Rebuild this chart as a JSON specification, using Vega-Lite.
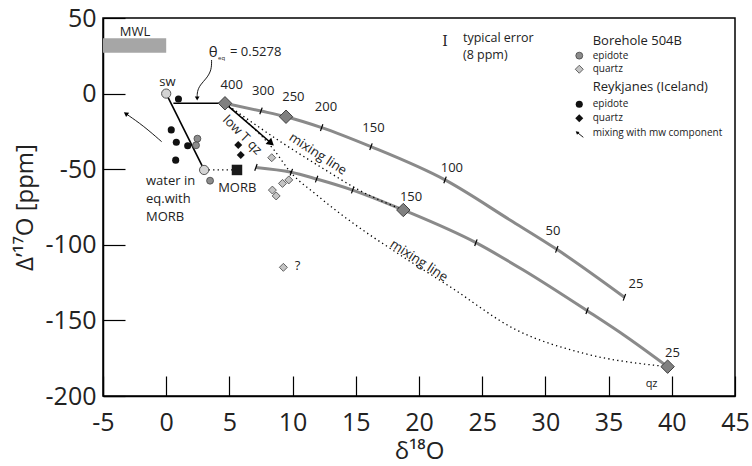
{
  "$schema": "https://vega.github.io/schema/vega-lite/v6.json",
  "width": 632,
  "height": 378,
  "autosize": "none",
  "padding": {"left": 103, "top": 18, "right": 17, "bottom": 70},
  "background": "white",
  "config": {
    "view": {"stroke": "black", "strokeWidth": 1.5},
    "axis": {"domainColor": "black", "domainWidth": 1.5, "tickColor": "black", "tickWidth": 1.2, "grid": false, "labelFont": "Open Sans", "titleFont": "Open Sans", "labelColor": "#222", "titleColor": "#222", "titleFontWeight": "normal"},
    "text": {"font": "Open Sans", "color": "#222"}
  },
  "datasets": {
    "mwl": [{"x": -5, "x2": 0, "y": 36.6, "y2": 27}],
    "lines": [
      {"s": "up", "o": 1, "x": 4.65, "y": -6.4}, {"s": "up", "o": 2, "x": 7.5, "y": -11.5}, {"s": "up", "o": 3, "x": 9.48, "y": -15.3}, {"s": "up", "o": 4, "x": 12.3, "y": -22.5}, {"s": "up", "o": 5, "x": 16.2, "y": -35.1}, {"s": "up", "o": 6, "x": 22.06, "y": -57.1}, {"s": "up", "o": 7, "x": 27.2, "y": -83.6}, {"s": "up", "o": 8, "x": 30.9, "y": -103}, {"s": "up", "o": 9, "x": 36.25, "y": -134.7},
      {"s": "lo", "o": 1, "x": 7.1, "y": -48.8}, {"s": "lo", "o": 2, "x": 9.9, "y": -52}, {"s": "lo", "o": 3, "x": 11.9, "y": -56.5}, {"s": "lo", "o": 4, "x": 14.75, "y": -63.8}, {"s": "lo", "o": 5, "x": 18.76, "y": -77}, {"s": "lo", "o": 6, "x": 24.5, "y": -98.6}, {"s": "lo", "o": 7, "x": 28.25, "y": -116.7}, {"s": "lo", "o": 8, "x": 33.3, "y": -143.6}, {"s": "lo", "o": 9, "x": 36.4, "y": -160.8}, {"s": "lo", "o": 10, "x": 39.67, "y": -180.6},
      {"s": "swline", "o": 1, "x": 0, "y": 0}, {"s": "swline", "o": 2, "x": 3, "y": -50.5},
      {"s": "start", "o": 1, "x": 0.57, "y": -6.4}, {"s": "start", "o": 2, "x": 4.65, "y": -6.4},
      {"s": "lowT", "o": 1, "x": 4.65, "y": -6.4}, {"s": "lowT", "o": 2, "x": 8.2, "y": -32},
      {"s": "mw", "o": 1, "x": -0.36, "y": -31.8}, {"s": "mw", "o": 2, "x": -1.8, "y": -21.3}, {"s": "mw", "o": 3, "x": -3.1, "y": -13.8},
      {"s": "theta", "o": 1, "x": 3.59, "y": 22.2}, {"s": "theta", "o": 2, "x": 3.59, "y": 15.6}, {"s": "theta", "o": 3, "x": 3.2, "y": 10.1}, {"s": "theta", "o": 4, "x": 2.67, "y": 5.7}, {"s": "theta", "o": 5, "x": 2.45, "y": 1.3}, {"s": "theta", "o": 6, "x": 2.45, "y": -2.5},
      {"s": "legarrow", "o": 1, "x": 33.0, "y": -28.9}, {"s": "legarrow", "o": 2, "x": 32.55, "y": -25.9},
      {"s": "wm", "o": 1, "x": 3, "y": -50.5}, {"s": "wm", "o": 2, "x": 5.6, "y": -50.5},
      {"s": "mix1", "o": 1, "x": 4.65, "y": -6.4}, {"s": "mix1", "o": 2, "x": 8.9, "y": -31}, {"s": "mix1", "o": 3, "x": 12.5, "y": -50}, {"s": "mix1", "o": 4, "x": 15.3, "y": -64}, {"s": "mix1", "o": 5, "x": 18.76, "y": -77},
      {"s": "mix2", "o": 1, "x": 4.65, "y": -6.4}, {"s": "mix2", "o": 2, "x": 6.5, "y": -19.5}, {"s": "mix2", "o": 3, "x": 8.5, "y": -37}, {"s": "mix2", "o": 4, "x": 9.8, "y": -51.6}, {"s": "mix2", "o": 5, "x": 11.9, "y": -67}, {"s": "mix2", "o": 6, "x": 14.8, "y": -85.8}, {"s": "mix2", "o": 7, "x": 17.9, "y": -103.4}, {"s": "mix2", "o": 8, "x": 22.45, "y": -127.7}, {"s": "mix2", "o": 9, "x": 27.7, "y": -156.3}, {"s": "mix2", "o": 10, "x": 33, "y": -171.7}, {"s": "mix2", "o": 11, "x": 39.67, "y": -180.6}
    ],
    "ticks": [
      {"x": 7.5, "y": -11.5}, {"x": 12.3, "y": -22.5}, {"x": 16.2, "y": -35.1}, {"x": 22.06, "y": -57.1}, {"x": 30.9, "y": -103}, {"x": 36.25, "y": -134.7},
      {"x": 7.1, "y": -48.8}, {"x": 9.9, "y": -52}, {"x": 11.9, "y": -56.5}, {"x": 14.75, "y": -63.8}, {"x": 24.5, "y": -98.6}, {"x": 33.3, "y": -143.6}
    ],
    "heads": [
      {"h": "lowT", "x": 8.3, "y": -32.8},
      {"h": "theta", "x": 2.45, "y": -3.2},
      {"h": "mw", "x": -3.2, "y": -13.2},
      {"h": "leg", "x": 32.5, "y": -25.6}
    ],
    "pts": [
      {"g": "sw", "x": 0, "y": 0}, {"g": "sw", "x": 3, "y": -50.5},
      {"g": "morb", "x": 5.6, "y": -50.5},
      {"g": "re", "x": 0.97, "y": -3.6}, {"g": "re", "x": 0.4, "y": -24}, {"g": "re", "x": 0.8, "y": -32.2}, {"g": "re", "x": 1.7, "y": -34.5}, {"g": "re", "x": 0.75, "y": -44},
      {"g": "be", "x": 2.47, "y": -29.8}, {"g": "be", "x": 2.36, "y": -34.2}, {"g": "be", "x": 3.47, "y": -57.6},
      {"g": "bq", "x": 8.35, "y": -42.4}, {"g": "bq", "x": 9.2, "y": -59.4}, {"g": "bq", "x": 9.7, "y": -57.1}, {"g": "bq", "x": 8.4, "y": -63.8}, {"g": "bq", "x": 8.7, "y": -67.7}, {"g": "bq", "x": 9.27, "y": -114.9},
      {"g": "rq", "x": 5.7, "y": -34}, {"g": "rq", "x": 5.9, "y": -40.6},
      {"g": "model", "x": 4.65, "y": -6.4}, {"g": "model", "x": 9.48, "y": -15.3}, {"g": "model", "x": 18.76, "y": -77}, {"g": "model", "x": 39.67, "y": -180.6},
      {"g": "be", "x": 32.68, "y": 25.1}, {"g": "bq", "x": 32.68, "y": 16.1}, {"g": "re", "x": 32.68, "y": -7.1}, {"g": "rq", "x": 32.68, "y": -16.3}
    ],
    "labels": [
      {"k": "temp", "x": 5.18, "y": 6, "t": "400"}, {"k": "temp", "x": 7.68, "y": 1.9, "t": "300"}, {"k": "temp", "x": 10.06, "y": -2, "t": "250"}, {"k": "temp", "x": 12.64, "y": -9, "t": "200"}, {"k": "temp", "x": 16.4, "y": -23, "t": "150"}, {"k": "temp", "x": 22.6, "y": -49, "t": "100"}, {"k": "temp", "x": 30.6, "y": -90.7, "t": "50"}, {"k": "temp", "x": 37.17, "y": -126, "t": "25"}, {"k": "temp", "x": 19.37, "y": -68.2, "t": "150"}, {"k": "temp", "x": 40.06, "y": -171.8, "t": "25"},
      {"k": "c13", "x": 5.62, "y": -62.6, "t": "MORB"}, {"k": "c13", "x": 10.4, "y": -114.3, "t": "?"}, {"k": "c13", "x": 0.1, "y": 7.9, "t": "sw"}, {"k": "c13", "x": -2.47, "y": 41, "t": "MWL"},
      {"k": "qz", "x": 38.4, "y": -192, "t": "qz"},
      {"k": "l13", "x": -1.6, "y": -57.6, "t": "water in"}, {"k": "l13", "x": -1.6, "y": -69.7, "t": "eq.with"}, {"k": "l13", "x": -1.6, "y": -81.6, "t": "MORB"},
      {"k": "l12", "x": 23.48, "y": 36.5, "t": "typical error"}, {"k": "l12", "x": 23.48, "y": 25.5, "t": "(8 ppm)"},
      {"k": "l13", "x": 33.74, "y": 35.0, "t": "Borehole 504B"}, {"k": "l13", "x": 33.74, "y": 4.6, "t": "Reykjanes (Iceland)"},
      {"k": "l10", "x": 33.74, "y": 25.1, "t": "epidote"}, {"k": "l10", "x": 33.74, "y": 16.1, "t": "quartz"}, {"k": "l10", "x": 33.74, "y": -7.1, "t": "epidote"}, {"k": "l10", "x": 33.74, "y": -16.3, "t": "quartz"}, {"k": "l10", "x": 33.74, "y": -26.3, "t": "mixing with mw component"},
      {"k": "l13", "x": 5.05, "y": 27.3, "t": "= 0.5278"},
      {"k": "theta", "x": 3.72, "y": 27.3, "t": "θ"}, {"k": "eq", "x": 4.38, "y": 23.3, "t": "eq"},
      {"k": "err", "x": 22.06, "y": 34.3, "t": "I"},
      {"k": "mix", "x": 12.0, "y": -40, "t": "mixing line"}, {"k": "mix", "x": 20.0, "y": -110.5, "t": "mixing line"},
      {"k": "lowt", "x": 6.02, "y": -27.4, "t": "low T qz"}
    ]
  },
  "encoding": {
    "x": {"field": "x", "type": "quantitative", "scale": {"domain": [-5, 45], "nice": false, "zero": false},
      "axis": {"values": [-5, 0, 5, 10, 15, 20, 25, 30, 35, 40, 45], "labelExpr": "'' + datum.value", "title": "δ¹⁸O", "tickSize": -20, "labelPadding": 34, "labelFontSize": 25, "titleFontSize": 24, "titlePadding": 4, "labelFlush": false}},
    "y": {"field": "y", "type": "quantitative", "scale": {"domain": [-200, 50], "nice": false, "zero": false},
      "axis": {"values": [-200, -150, -100, -50, 0, 50], "labelExpr": "'' + datum.value", "title": "Δ’¹⁷O [ppm]", "tickSize": -22, "labelPadding": 29, "labelFontSize": 25, "titleFontSize": 24, "titlePadding": 8, "labelFlush": false}}
  },
  "layer": [
    {"data": {"name": "mwl"}, "mark": {"type": "rect", "color": "#a6a6a6"}, "encoding": {"x2": {"field": "x2"}, "y2": {"field": "y2"}}},
    {"data": {"name": "lines"}, "transform": [{"filter": {"field": "s", "oneOf": ["up", "lo"]}}], "mark": {"type": "line", "stroke": "#8a8a8a", "strokeWidth": 3, "interpolate": "monotone"}, "encoding": {"detail": {"field": "s"}, "order": {"field": "o"}}},
    {"data": {"name": "lines"}, "transform": [{"filter": {"field": "s", "oneOf": ["wm", "mix1", "mix2"]}}], "mark": {"type": "line", "stroke": "black", "strokeWidth": 1.3, "strokeDash": [1.3, 3.2], "interpolate": "monotone"}, "encoding": {"detail": {"field": "s"}, "order": {"field": "o"}}},
    {"data": {"name": "lines"}, "transform": [{"filter": {"field": "s", "oneOf": ["swline", "start", "lowT"]}}], "mark": {"type": "line", "stroke": "black", "strokeWidth": 1.6}, "encoding": {"detail": {"field": "s"}, "order": {"field": "o"}}},
    {"data": {"name": "lines"}, "transform": [{"filter": {"field": "s", "oneOf": ["mw", "theta", "legarrow"]}}], "mark": {"type": "line", "stroke": "black", "strokeWidth": 0.9, "interpolate": "basis"}, "encoding": {"detail": {"field": "s"}, "order": {"field": "o"}}},
    {"data": {"name": "ticks"}, "mark": {"type": "point", "shape": "M0,-1L0,1", "size": 50, "stroke": "black", "strokeWidth": 1.2, "angle": 20, "opacity": 1}},
    {"data": {"name": "heads"}, "transform": [{"filter": {"field": "h", "equal": "lowT"}}], "mark": {"type": "point", "shape": "triangle-up", "size": 70, "filled": true, "color": "black", "opacity": 1, "angle": 132}},
    {"data": {"name": "heads"}, "transform": [{"filter": {"field": "h", "equal": "theta"}}], "mark": {"type": "point", "shape": "triangle-down", "size": 22, "filled": true, "color": "black", "opacity": 1}},
    {"data": {"name": "heads"}, "transform": [{"filter": {"field": "h", "equal": "mw"}}], "mark": {"type": "point", "shape": "triangle-up", "size": 28, "filled": true, "color": "black", "opacity": 1, "angle": 305}},
    {"data": {"name": "heads"}, "transform": [{"filter": {"field": "h", "equal": "leg"}}], "mark": {"type": "point", "shape": "triangle-up", "size": 14, "filled": true, "color": "black", "opacity": 1, "angle": 310}},
    {"data": {"name": "pts"}, "transform": [{"filter": {"field": "g", "equal": "sw"}}], "mark": {"type": "point", "shape": "circle", "size": 85, "filled": true, "fill": "#d4d4d4", "stroke": "#555", "strokeWidth": 1, "opacity": 1}},
    {"data": {"name": "pts"}, "transform": [{"filter": {"field": "g", "equal": "morb"}}], "mark": {"type": "point", "shape": "square", "size": 110, "filled": true, "color": "#1a1a1a", "opacity": 1}},
    {"data": {"name": "pts"}, "transform": [{"filter": {"field": "g", "equal": "re"}}], "mark": {"type": "point", "shape": "circle", "size": 50, "filled": true, "color": "#111", "opacity": 1}},
    {"data": {"name": "pts"}, "transform": [{"filter": {"field": "g", "equal": "be"}}], "mark": {"type": "point", "shape": "circle", "size": 48, "filled": true, "fill": "#8c8c8c", "stroke": "#444", "strokeWidth": 0.8, "opacity": 1}},
    {"data": {"name": "pts"}, "transform": [{"filter": {"field": "g", "equal": "rq"}}], "mark": {"type": "point", "shape": "diamond", "size": 64, "filled": true, "color": "#111", "opacity": 1}},
    {"data": {"name": "pts"}, "transform": [{"filter": {"field": "g", "equal": "bq"}}], "mark": {"type": "point", "shape": "diamond", "size": 64, "filled": true, "fill": "#c4c4c4", "stroke": "#444", "strokeWidth": 0.8, "opacity": 1}},
    {"data": {"name": "pts"}, "transform": [{"filter": {"field": "g", "equal": "model"}}], "mark": {"type": "point", "shape": "diamond", "size": 180, "filled": true, "fill": "#808080", "stroke": "#404040", "strokeWidth": 1, "opacity": 1}},
    {"data": {"name": "labels"}, "transform": [{"filter": {"field": "k", "equal": "temp"}}], "mark": {"type": "text", "fontSize": 13, "align": "center", "baseline": "middle"}, "encoding": {"text": {"field": "t"}}},
    {"data": {"name": "labels"}, "transform": [{"filter": {"field": "k", "equal": "c13"}}], "mark": {"type": "text", "fontSize": 13, "align": "center", "baseline": "middle"}, "encoding": {"text": {"field": "t"}}},
    {"data": {"name": "labels"}, "transform": [{"filter": {"field": "k", "equal": "qz"}}], "mark": {"type": "text", "fontSize": 11, "align": "center", "baseline": "middle"}, "encoding": {"text": {"field": "t"}}},
    {"data": {"name": "labels"}, "transform": [{"filter": {"field": "k", "equal": "l13"}}], "mark": {"type": "text", "fontSize": 13, "align": "left", "baseline": "middle"}, "encoding": {"text": {"field": "t"}}},
    {"data": {"name": "labels"}, "transform": [{"filter": {"field": "k", "equal": "l12"}}], "mark": {"type": "text", "fontSize": 12.5, "align": "left", "baseline": "middle"}, "encoding": {"text": {"field": "t"}}},
    {"data": {"name": "labels"}, "transform": [{"filter": {"field": "k", "equal": "l10"}}], "mark": {"type": "text", "fontSize": 10, "align": "left", "baseline": "middle"}, "encoding": {"text": {"field": "t"}}},
    {"data": {"name": "labels"}, "transform": [{"filter": {"field": "k", "equal": "theta"}}], "mark": {"type": "text", "fontSize": 15, "align": "center", "baseline": "middle"}, "encoding": {"text": {"field": "t"}}},
    {"data": {"name": "labels"}, "transform": [{"filter": {"field": "k", "equal": "eq"}}], "mark": {"type": "text", "fontSize": 6, "align": "center", "baseline": "middle"}, "encoding": {"text": {"field": "t"}}},
    {"data": {"name": "labels"}, "transform": [{"filter": {"field": "k", "equal": "err"}}], "mark": {"type": "text", "fontSize": 14, "font": "DejaVu Serif", "align": "center", "baseline": "middle"}, "encoding": {"text": {"field": "t"}}},
    {"data": {"name": "labels"}, "transform": [{"filter": {"field": "k", "equal": "mix"}}], "mark": {"type": "text", "fontSize": 13, "align": "center", "baseline": "middle", "angle": 33}, "encoding": {"text": {"field": "t"}}},
    {"data": {"name": "labels"}, "transform": [{"filter": {"field": "k", "equal": "lowt"}}], "mark": {"type": "text", "fontSize": 13, "align": "center", "baseline": "middle", "angle": 45}, "encoding": {"text": {"field": "t"}}}
  ]
}
